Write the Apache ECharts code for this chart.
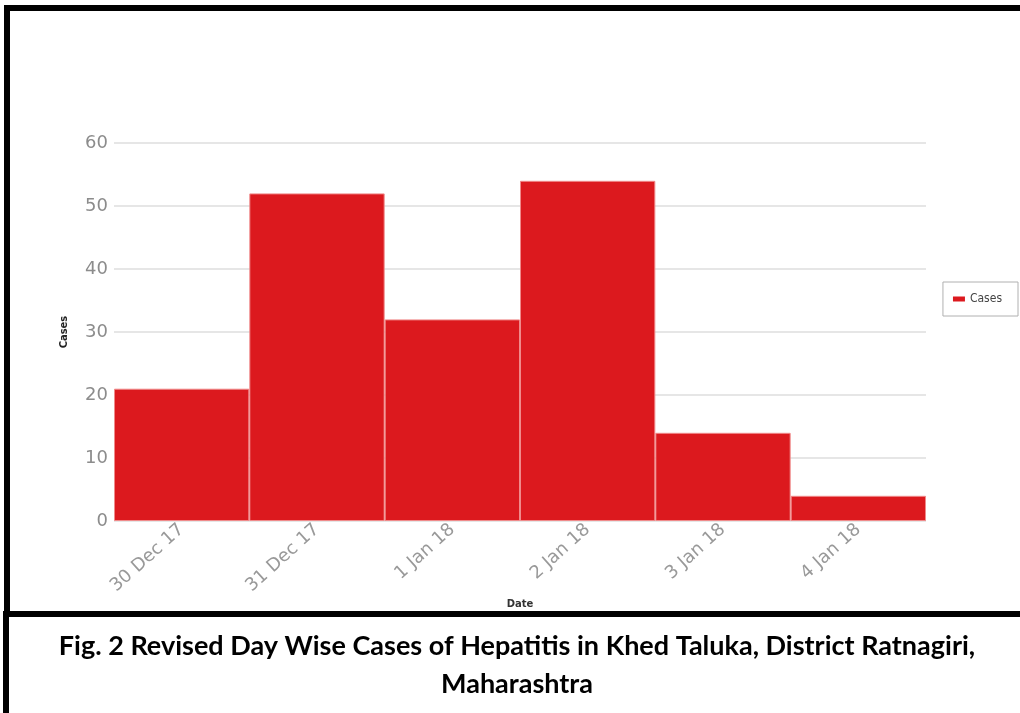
<!DOCTYPE html>
<html>
<head>
<meta charset="utf-8">
<title>Day Wise Cases of Hepatitis</title>
<script src="https://cdn.jsdelivr.net/npm/echarts@6/dist/echarts.min.js"></script>
<style>
  html, body { margin: 0; padding: 0; background: #fff; }
  #chart { width: 1020px; height: 713px; }
</style>
</head>
<body>
<div id="chart"></div>
<script>
// Daily case counts, Khed Taluka outbreak
const dates = ['30 Dec 17', '31 Dec 17', '1 Jan 18', '2 Jan 18', '3 Jan 18', '4 Jan 18'];
const cases = [21, 52, 32, 54, 14, 4];
const yTicks = { min: 0, max: 60, interval: 10 };
const seriesName = 'Cases';
const captionLines = [
  'Fig. 2 Revised Day Wise Cases of Hepatitis in Khed Taluka, District Ratnagiri,',
  'Maharashtra'
];

const chart = echarts.init(document.getElementById('chart'), null, { renderer: 'canvas' });

const frame = '#000';
const captionFont = 'bold 27px Lato';
const option = {
  backgroundColor: '#fff',
  animation: false,
  grid: { left: 114, right: 94, top: 143, bottom: 192, containLabel: false },
  legend: {
    data: [seriesName],
    right: 2,
    top: 282,
    orient: 'vertical',
    itemWidth: 12,
    itemHeight: 5,
    itemGap: 4,
    padding: [11, 16, 11, 10],
    borderColor: '#b0b0b0',
    borderWidth: 1,
    icon: 'rect',
    itemStyle: { borderWidth: 0 },
    textStyle: { fontFamily: 'DejaVu Sans Condensed', fontSize: 12, color: '#444' }
  },
  xAxis: {
    type: 'category',
    data: dates,
    boundaryGap: true,
    name: 'Date',
    nameLocation: 'middle',
    nameGap: 78,
    nameMoveOverlap: false,
    nameTextStyle: { fontFamily: 'DejaVu Sans', fontSize: 10, fontWeight: 'bold', color: '#333' },
    axisLine: { show: false },
    axisTick: { show: false },
    axisLabel: {
      rotate: 42,
      margin: 6,
      fontFamily: 'DejaVu Sans',
      fontSize: 18,
      color: '#999'
    }
  },
  yAxis: {
    type: 'value',
    min: yTicks.min,
    max: yTicks.max,
    interval: yTicks.interval,
    name: 'Cases',
    nameLocation: 'middle',
    nameGap: 44,
    nameRotate: 90,
    nameTextStyle: { fontFamily: 'DejaVu Sans Condensed', fontSize: 11, fontWeight: 'bold', color: '#222' },
    axisLine: { show: false },
    axisTick: { show: false },
    axisLabel: {
      margin: 6,
      fontFamily: 'DejaVu Sans',
      fontSize: 18,
      color: '#8c8c8c'
    },
    splitLine: { lineStyle: { color: '#dedede', width: 1.5 } }
  },
  series: [{
    name: seriesName,
    type: 'bar',
    data: cases,
    barCategoryGap: '0%',
    itemStyle: {
      color: '#dc191e',
      borderColor: '#f08a8a',
      borderWidth: 1
    }
  }],
  graphic: [
    // outer frame and caption divider
    { type: 'rect', shape: { x: 4, y: 5, width: 1016, height: 6 }, style: { fill: frame } },
    { type: 'rect', shape: { x: 4, y: 5, width: 6, height: 610 }, style: { fill: frame } },
    { type: 'rect', shape: { x: 3, y: 611, width: 1017, height: 6 }, style: { fill: frame } },
    { type: 'rect', shape: { x: 3, y: 611, width: 6, height: 102 }, style: { fill: frame } },
    {
      type: 'text', x: 517, y: 646,
      style: {
        text: captionLines[0], fill: '#000',
        font: captionFont, textAlign: 'center', textVerticalAlign: 'middle'
      }
    },
    {
      type: 'text', x: 517, y: 684,
      style: {
        text: captionLines[1], fill: '#000',
        font: captionFont, textAlign: 'center', textVerticalAlign: 'middle'
      }
    }
  ]
};

chart.setOption(option);
</script>
</body>
</html>
